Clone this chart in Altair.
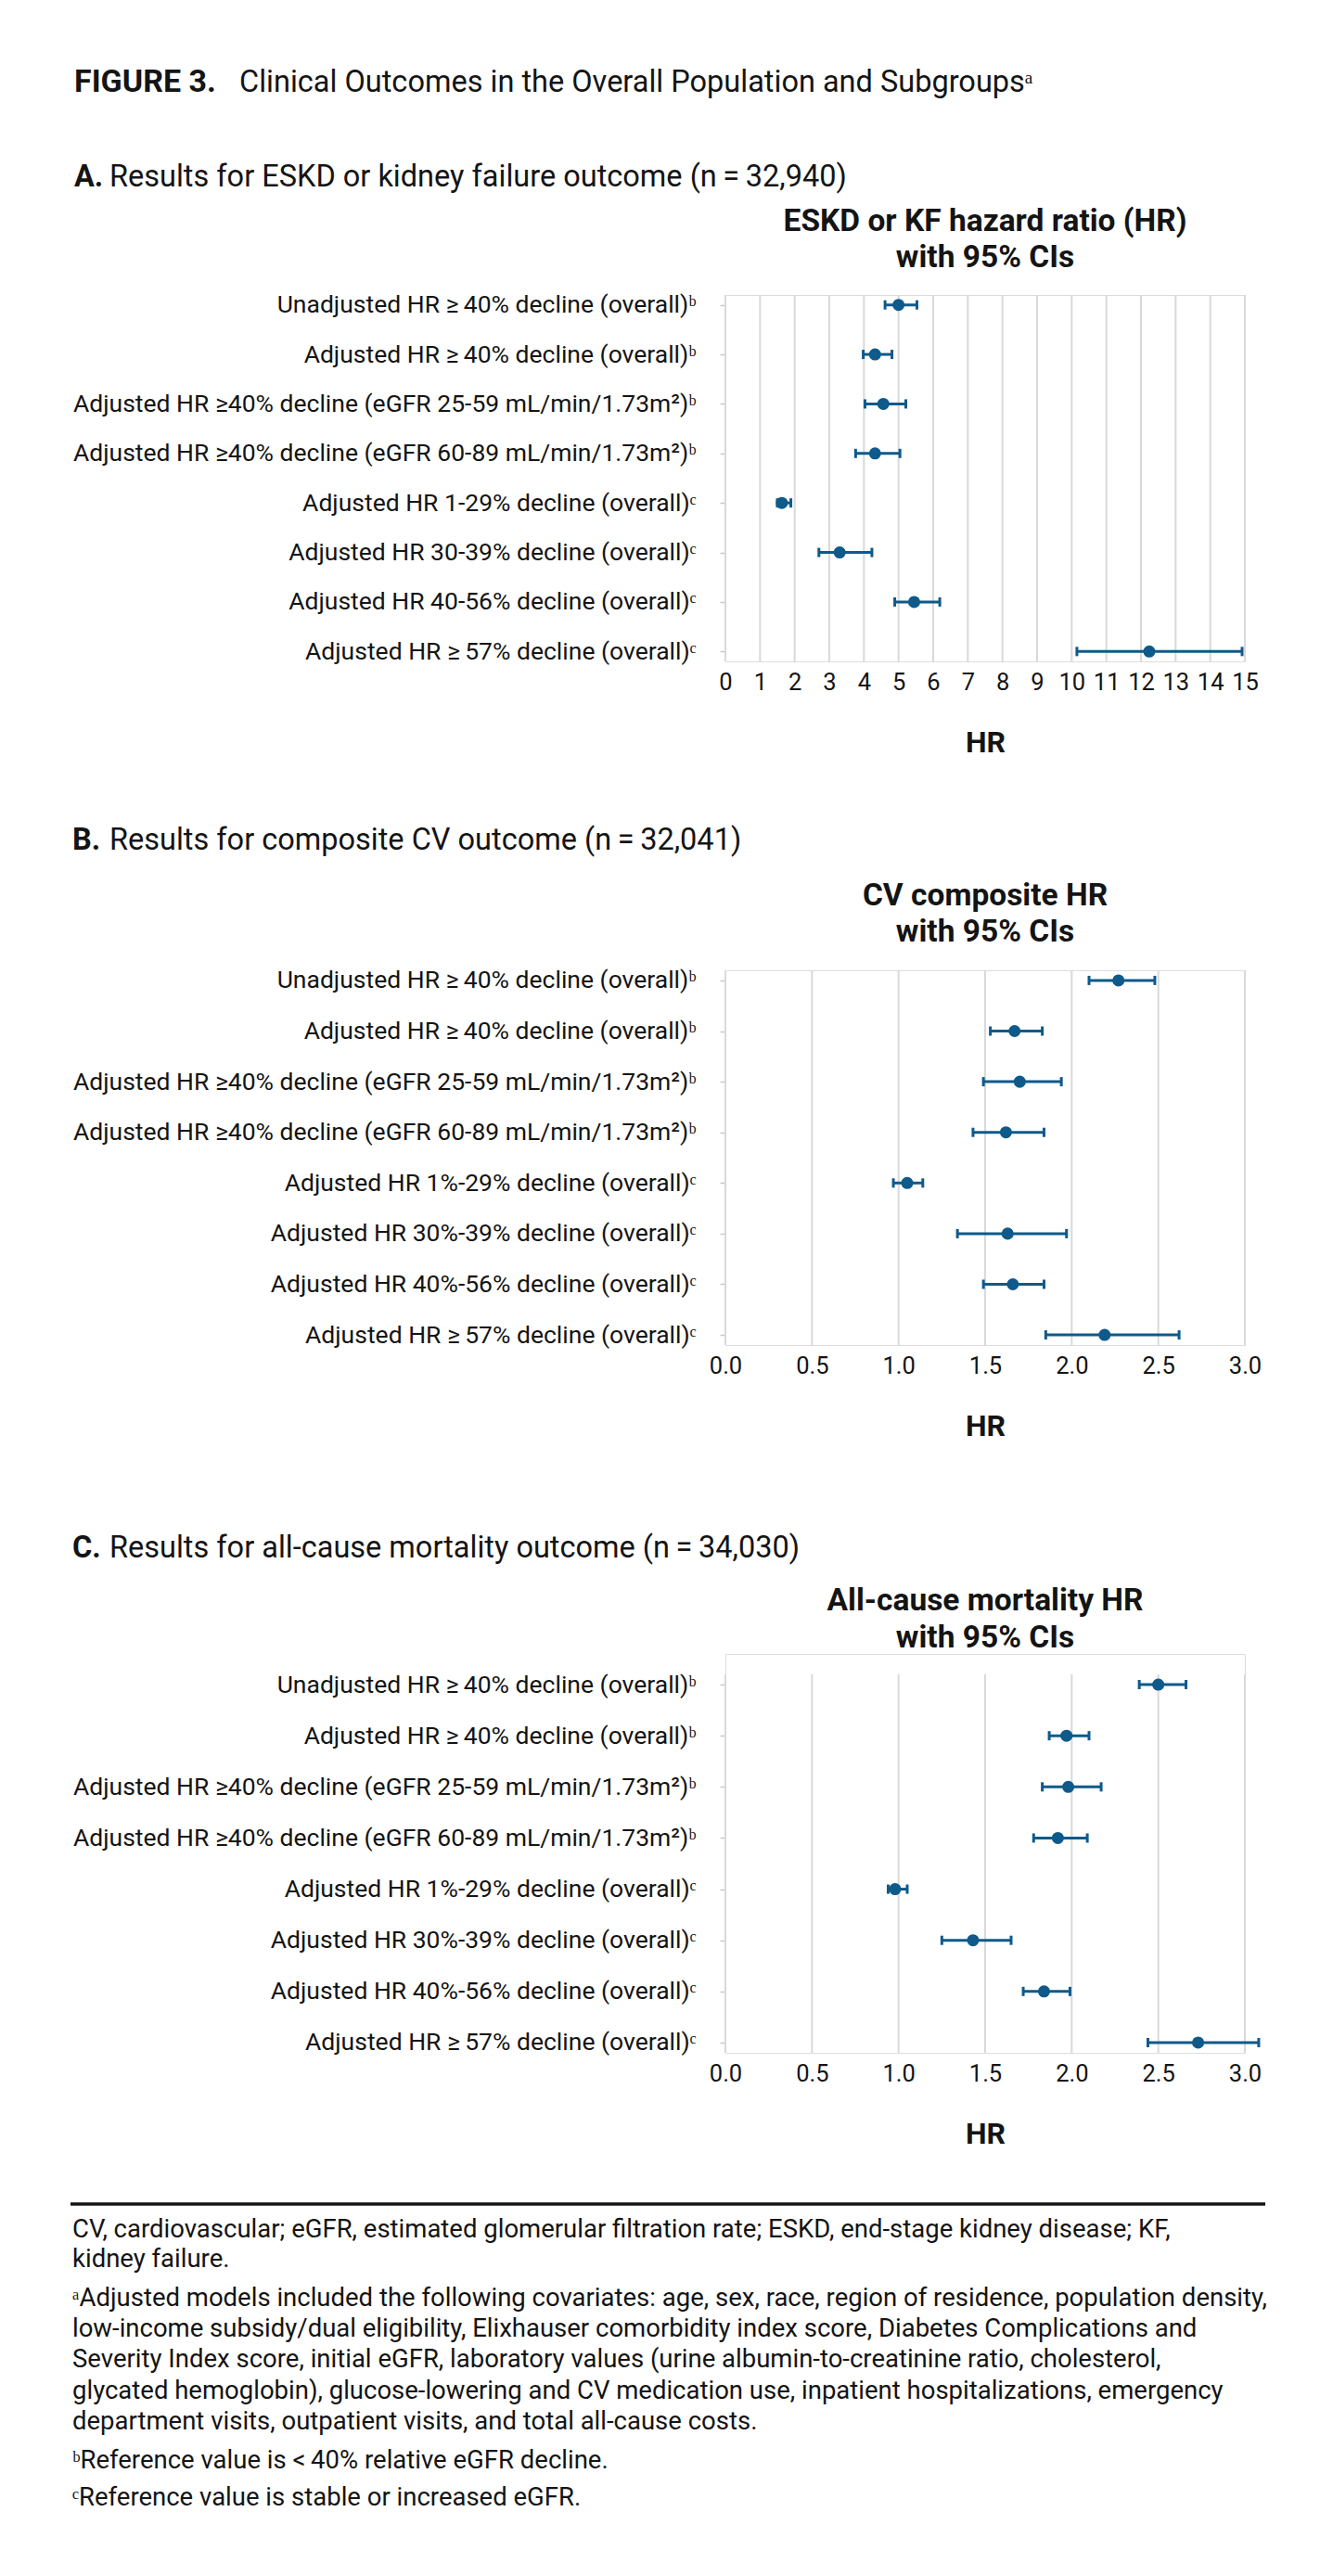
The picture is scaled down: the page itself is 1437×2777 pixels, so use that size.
import altair as alt
import pandas as pd

FONT = "Roboto"
BLUE = "#0E5A8A"
TXT = "#141414"
GRID = "#D9D9D9"

W = 560

FIG_TITLE_BOLD = "FIGURE 3."
FIG_TITLE_REST = "Clinical Outcomes in the Overall Population and Subgroups\u1d43"

HEAD_A = ("A.", "Results for ESKD or kidney failure outcome (n\u2009=\u200932,940)")
HEAD_B = ("B.", "Results for composite CV outcome (n\u2009=\u200932,041)")
HEAD_C = ("C.", "Results for all-cause mortality outcome (n\u2009=\u200934,030)")

TITLE_A = ["ESKD or KF hazard ratio (HR)", "with 95% CIs"]
TITLE_B = ["CV composite HR", "with 95% CIs"]
TITLE_C = ["All-cause mortality HR", "with 95% CIs"]

LABELS_A = [
    "Unadjusted HR \u2265\u200940% decline (overall)\u1d47",
    "Adjusted HR \u2265\u200940% decline (overall)\u1d47",
    "Adjusted HR \u226540% decline (eGFR 25-59 mL/min/1.73m\u00b2)\u1d47",
    "Adjusted HR \u226540% decline (eGFR 60-89 mL/min/1.73m\u00b2)\u1d47",
    "Adjusted HR 1-29% decline (overall)\u1d9c",
    "Adjusted HR 30-39% decline (overall)\u1d9c",
    "Adjusted HR 40-56% decline (overall)\u1d9c",
    "Adjusted HR \u2265\u200957% decline (overall)\u1d9c",
]
LABELS_BC = [
    "Unadjusted HR \u2265\u200940% decline (overall)\u1d47",
    "Adjusted HR \u2265\u200940% decline (overall)\u1d47",
    "Adjusted HR \u226540% decline (eGFR 25-59 mL/min/1.73m\u00b2)\u1d47",
    "Adjusted HR \u226540% decline (eGFR 60-89 mL/min/1.73m\u00b2)\u1d47",
    "Adjusted HR 1%-29% decline (overall)\u1d9c",
    "Adjusted HR 30%-39% decline (overall)\u1d9c",
    "Adjusted HR 40%-56% decline (overall)\u1d9c",
    "Adjusted HR \u2265\u200957% decline (overall)\u1d9c",
]

A_HR = [5.00, 4.32, 4.56, 4.32, 1.63, 3.30, 5.45, 12.24]
A_LO = [4.61, 3.98, 4.03, 3.76, 1.50, 2.70, 4.89, 10.15]
A_HI = [5.53, 4.81, 5.21, 5.04, 1.89, 4.23, 6.19, 14.92]

B_HR = [2.27, 1.67, 1.70, 1.62, 1.05, 1.63, 1.66, 2.19]
B_LO = [2.10, 1.53, 1.49, 1.43, 0.97, 1.34, 1.49, 1.85]
B_HI = [2.48, 1.83, 1.94, 1.84, 1.14, 1.97, 1.84, 2.62]

C_HR = [2.50, 1.97, 1.98, 1.92, 0.98, 1.43, 1.84, 2.73]
C_LO = [2.39, 1.87, 1.83, 1.78, 0.94, 1.25, 1.72, 2.44]
C_HI = [2.66, 2.10, 2.17, 2.09, 1.05, 1.65, 1.99, 3.08]

TICKS_A = list(range(0, 16))
TICKS_BC = [0.0, 0.5, 1.0, 1.5, 2.0, 2.5, 3.0]

FOOTER = [
    "CV, cardiovascular; eGFR, estimated glomerular filtration rate; ESKD, end-stage kidney disease; KF,",
    "kidney failure.",
    "\u1d43Adjusted models included the following covariates: age, sex, race, region of residence, population density,",
    "low-income subsidy/dual eligibility, Elixhauser comorbidity index score, Diabetes Complications and",
    "Severity Index score, initial eGFR, laboratory values (urine albumin-to-creatinine ratio, cholesterol,",
    "glycated hemoglobin), glucose-lowering and CV medication use, inpatient hospitalizations, emergency",
    "department visits, outpatient visits, and total all-cause costs.",
    "\u1d47Reference value is <\u200940% relative eGFR decline.",
    "\u1d9cReference value is stable or increased eGFR.",
]
FOOTER_Y = [599, 631, 673, 706, 739, 773, 806, 848, 888]

ONE = pd.DataFrame({"d": [0]})


def text_layer(x, y, t, size, weight="normal", align="left"):
    return alt.Chart(pd.DataFrame({"t": [t]})).mark_text(
        align=align, baseline="middle", fontSize=size, fontWeight=weight,
        font=FONT, color=TXT
    ).encode(x=alt.value(x), y=alt.value(y), text="t:N")


def panel(labels, hr, lo, hi, domain, ticks, fmt, height, title_lines, title_ys,
          heading, heading_y, heading_xs, top_pad=0, extra=None):
    df = pd.DataFrame({"label": labels, "hr": hr, "lo": lo, "hi": hi})
    top = top_pad
    bottom = top_pad + height
    y = alt.Y(
        "label:N", sort=labels,
        scale=alt.Scale(type="point", padding=0.2, range=[top, bottom]),
        axis=alt.Axis(
            title=None, domain=False, ticks=True, tickSize=6, tickColor="#C8C8C8",
            tickWidth=1.5, labelFontSize=26.5, labelPadding=26, labelColor=TXT,
            labelFont=FONT, grid=False, labelLimit=1000,
        ),
    )
    xs = alt.Scale(domain=domain, nice=False, zero=False)
    xaxis = alt.Axis(
        values=ticks, format=fmt, title="HR", grid=False, domain=False,
        ticks=False, labelFontSize=25.5, labelFont=FONT, labelColor=TXT,
        labelPadding=10, labelOverlap=False, labelFlush=False,
        labelSeparation=0,
        titleFont=FONT, titleFontSize=32, titleFontWeight="bold",
        titleColor=TXT, titlePadding=37,
    )
    grid = alt.Chart(pd.DataFrame({"v": ticks})).mark_rule(
        color=GRID, strokeWidth=2).encode(
        x=alt.X("v:Q", scale=xs, axis=xaxis),
        y=alt.value(top), y2=alt.value(bottom))
    base = alt.Chart(df)
    bars = base.mark_rule(color=BLUE, strokeWidth=3).encode(
        x=alt.X("lo:Q", scale=xs, axis=xaxis), x2="hi:Q", y=y)
    cap_lo = base.mark_tick(color=BLUE, thickness=3, size=10, opacity=1).encode(
        x=alt.X("lo:Q", scale=xs, axis=xaxis), y=y)
    cap_hi = base.mark_tick(color=BLUE, thickness=3, size=10, opacity=1).encode(
        x=alt.X("hi:Q", scale=xs, axis=xaxis), y=y)
    pts = base.mark_circle(color=BLUE, size=170, opacity=1).encode(
        x=alt.X("hr:Q", scale=xs, axis=xaxis), y=y)
    layers = [grid, bars, cap_lo, cap_hi, pts]
    for line, ty in zip(title_lines, title_ys):
        layers.append(text_layer(W / 2, ty + top_pad, line, 33.5, "bold", "center"))
    layers.append(text_layer(heading_xs[0], heading_y + top_pad, heading[0], 32.5, "bold"))
    layers.append(text_layer(heading_xs[1], heading_y + top_pad, heading[1], 32.5))
    if extra:
        layers.extend(extra)
    return alt.layer(*layers).properties(width=W, height=height + top_pad)


anchor = alt.Chart(ONE).mark_rule(color="white", strokeWidth=1).encode(
    x=alt.value(-773), x2=alt.value(-771), y=alt.value(-309))

extra_a = [
    anchor,
    text_layer(-702, -229, FIG_TITLE_BOLD, 34, "bold"),
    text_layer(-524, -229, FIG_TITLE_REST, 32.5),
]

C_PAD = 22
footer_rule = alt.Chart(ONE).mark_rule(color=TXT, strokeWidth=3.5).encode(
    x=alt.value(-706), x2=alt.value(582), y=alt.value(571 + C_PAD))
extra_c = [footer_rule] + [
    text_layer(-704, fy + C_PAD, ft, 27.5) for ft, fy in zip(FOOTER, FOOTER_Y)
]

pA = panel(LABELS_A, A_HR, A_LO, A_HI, [0, 15], TICKS_A, "d", 395,
           TITLE_A, [-79, -40], HEAD_A, -127, (-702, -664), 0, extra_a)
pB = panel(LABELS_BC, B_HR, B_LO, B_HI, [0, 3], TICKS_BC, ".1f", 404,
           TITLE_B, [-80, -41], HEAD_B, -140, (-704, -664))
pC = panel(LABELS_BC, C_HR, C_LO, C_HI, [0, 3], TICKS_BC, ".1f", 408,
           TITLE_C, [-79, -39], HEAD_C, -136, (-704, -664), C_PAD, extra_c)

chart = alt.vconcat(pA, pB, pC, spacing=333, bounds="flush").properties(
    padding=0
).configure_view(stroke=None).configure(font=FONT).configure_axisX(
    labelOverlap=False, labelSeparation=0
)

chart.save("out.html", embed_options={"renderer": "svg", "actions": False})
